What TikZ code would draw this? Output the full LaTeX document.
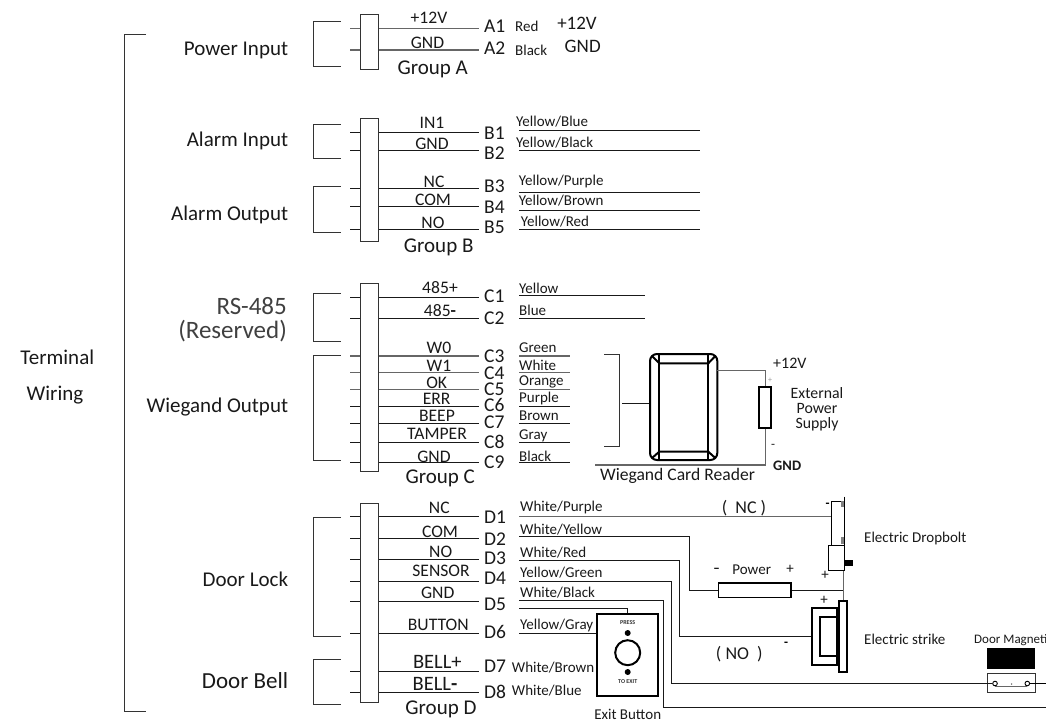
\documentclass[tikz,border=0pt]{standalone}
\usepackage{fontspec}
\setmainfont{Carlito}
\usetikzlibrary{positioning}
\tikzset{
  group/.style={font=\fontsize{21}{23}\selectfont,text=black!90,inner sep=0pt,anchor=east,yshift=-1.5pt},
  grouplabel/.style={font=\fontsize{21}{23}\selectfont,text=black!90,inner sep=0pt},
  pinlabel/.style={font=\fontsize{17.6}{19}\selectfont,text=black!90,inner sep=0pt},
  termlabel/.style={font=\fontsize{19.5}{21}\selectfont,text=black!90,inner ysep=0pt,inner xsep=5pt,anchor=west},
  colourlabel/.style={font=\fontsize{15}{17}\selectfont,text=black!90,inner sep=0pt,anchor=west},
  devlabel/.style={font=\fontsize{15}{17}\selectfont,text=black!90,inner sep=0pt},
  minuslabel/.style={font=\bfseries\fontsize{13}{15}\selectfont,text=black,inner sep=0pt,yshift=-1.5pt},
  wire/.style={draw=black!90,line width=1pt},
  greywire/.style={draw=black!60,line width=1.2pt},
  bracket/.style={draw=black!80,line width=1pt},
  block/.style={draw=black!80,fill=white,line width=1pt,inner sep=0pt,minimum width=17.7pt},
  part/.style={draw=black,fill=white,line width=2pt,inner sep=0pt},
  thinpart/.style={draw=black,line width=1pt,inner sep=0pt},
}
\begin{document}
\begin{tikzpicture}[x=1pt,y=-1pt]
\useasboundingbox (0,0) rectangle (1046,721);

\node[font=\fontsize{21}{23}\selectfont,text=black!90,inner sep=0pt] (terminal) at (57.3,357) {Terminal};
\node[font=\fontsize{21}{23}\selectfont,text=black!90,inner sep=0pt] (wiring) at (55,395) {Wiring};
\draw[bracket] (146,34) -| (124.3,711.7) -- (146,711.7);

\node[group] (power) at (288.3,49) {Power Input};
\node[group] (alarmin) at (288.3,139.3) {Alarm Input};
\node[group] (alarmout) at (288.3,213.3) {Alarm Output};
\node[group,font=\fontsize{25}{27}\selectfont,text=black!75] (rs) at (287,305) {RS-485};
\node[group,font=\fontsize{25}{27}\selectfont,text=black!75] (reserved) at (287,330) {(Reserved)};
\node[group] (wiegand) at (288.3,406) {Wiegand Output};
\node[group] (doorlock) at (288.3,578) {Door Lock};
\node[group,font=\fontsize{23}{25}\selectfont] (doorbell) at (288.3,679) {Door Bell};

\draw[bracket] (340.7,21.7) -| (313,66.7) -- (340.7,66.7);
\draw[bracket] (340.7,124) -| (313,158) -- (340.7,158);
\draw[bracket] (340.7,186.7) -| (313,232) -- (340.7,232);
\draw[bracket] (340.7,293.3) -| (313,341.3) -- (340.7,341.3);
\draw[bracket] (340.7,355.7) -| (313,460.3) -- (340.7,460.3);
\draw[bracket] (340.7,517) -| (313,636) -- (340.7,636);
\draw[bracket] (340.7,659) -| (313,704.3) -- (340.7,704.3);

\node[termlabel] (A1) at (479,26) {A1};
\node[termlabel] (A2) at (479,48) {A2};
\node[termlabel] (B1) at (479,133) {B1};
\node[termlabel] (B2) at (479,152.7) {B2};
\node[termlabel] (B3) at (479,186) {B3};
\node[termlabel] (B4) at (479,207) {B4};
\node[termlabel] (B5) at (479,227.7) {B5};
\node[termlabel] (C1) at (479,296) {C1};
\node[termlabel] (C2) at (479,318.3) {C2};
\node[termlabel] (C3) at (479,356) {C3};
\node[termlabel] (C4) at (479,373.3) {C4};
\node[termlabel] (C5) at (479,389.3) {C5};
\node[termlabel] (C6) at (479,405.3) {C6};
\node[termlabel] (C7) at (479,422.7) {C7};
\node[termlabel] (C8) at (479,441.7) {C8};
\node[termlabel] (C9) at (479,462.3) {C9};
\node[termlabel] (D1) at (479,517) {D1};
\node[termlabel] (D2) at (479,539) {D2};
\node[termlabel] (D3) at (479,558.3) {D3};
\node[termlabel] (D4) at (479,578.7) {D4};
\node[termlabel] (D5) at (479,604.3) {D5};
\node[termlabel] (D6) at (479,632.3) {D6};
\node[termlabel] (D7) at (479,666.7) {D7};
\node[termlabel] (D8) at (479,691.7) {D8};

\coordinate (a1) at (350,28.7); \draw[greywire] (a1) -- (a1 -| A1.west);
\coordinate (a2) at (350,50); \draw[greywire] (a2) -- (a2 -| A2.west);
\coordinate (b1) at (350,132.3); \draw[wire] (b1) -- (b1 -| B1.west);
\coordinate (b2) at (350,150.7); \draw[wire] (b2) -- (b2 -| B2.west);
\coordinate (b3) at (350,188); \draw[wire] (b3) -- (b3 -| B3.west);
\coordinate (b4) at (350,206.7); \draw[wire] (b4) -- (b4 -| B4.west);
\coordinate (b5) at (350,229.7); \draw[wire] (b5) -- (b5 -| B5.west);
\coordinate (c1) at (350,297.3); \draw[wire] (c1) -- (c1 -| C1.west);
\coordinate (c2) at (350,318); \draw[wire] (c2) -- (c2 -| C2.west);
\coordinate (c3) at (350,356); \draw[greywire] (c3) -- (c3 -| C3.west);
\coordinate (c4) at (350,372.7); \draw[greywire] (c4) -- (c4 -| C4.west);
\coordinate (c5) at (350,389.3); \draw[greywire] (c5) -- (c5 -| C5.west);
\coordinate (c6) at (350,406); \draw[wire] (c6) -- (c6 -| C6.west);
\coordinate (c7) at (350,423.3); \draw[wire] (c7) -- (c7 -| C7.west);
\coordinate (c8) at (350,442); \draw[wire] (c8) -- (c8 -| C8.west);
\coordinate (c9) at (350,462); \draw[wire] (c9) -- (c9 -| C9.west);
\coordinate (d1) at (350,516); \draw[wire] (d1) -- (d1 -| D1.west);
\coordinate (d2) at (350,538.3); \draw[wire] (d2) -- (d2 -| D2.west);
\coordinate (d3) at (350,559.7); \draw[wire] (d3) -- (d3 -| D3.west);
\coordinate (d4) at (350,581.3); \draw[wire] (d4) -- (d4 -| D4.west);
\coordinate (d5) at (350,601.7); \draw[wire] (d5) -- (d5 -| D5.west);
\coordinate (d6) at (350,633.3); \draw[wire] (d6) -- (d6 -| D6.west);
\coordinate (d7) at (350,671.7); \draw[wire] (d7) -- (d7 -| D7.west);
\coordinate (d8) at (350,692.7); \draw[wire] (d8) -- (d8 -| D8.west);

\node[block,minimum height=54.3pt] (blockA) at (369.8,41.85) {};
\node[block,minimum height=123.4pt] (blockB) at (369.8,180) {};
\node[block,minimum height=187.3pt] (blockC) at (369.8,377.35) {};
\node[block,minimum height=199.4pt] (blockD) at (369.8,603) {};

\node[pinlabel] (p12) at (429,18) {+12V};
\node[pinlabel] (pgnda) at (427.5,42.7) {GND};
\node[pinlabel] (pin1) at (432,123) {IN1};
\node[pinlabel] (pgndb) at (432,144) {GND};
\node[pinlabel] (pnc) at (434,181.7) {NC};
\node[pinlabel] (pcom) at (433,200) {COM};
\node[pinlabel] (pno) at (433,222.7) {NO};
\node[pinlabel] (p485a) at (440,287.7) {485+};
\node[pinlabel] (p485b) at (440,310.3) {485\textbf{-}};
\node[pinlabel] (pw0) at (439,348.3) {W0};
\node[pinlabel] (pw1) at (439,366) {W1};
\node[pinlabel] (pok) at (436.7,382.7) {OK};
\node[pinlabel] (perr) at (436.7,399) {ERR};
\node[pinlabel] (pbeep) at (437,415.7) {BEEP};
\node[pinlabel] (ptamper) at (437,434.3) {TAMPER};
\node[pinlabel] (pgndc) at (434,456.7) {GND};
\node[pinlabel] (pncd) at (439.3,508.3) {NC};
\node[pinlabel] (pcomd) at (440,531.7) {COM};
\node[pinlabel] (pnod) at (440.7,551.7) {NO};
\node[pinlabel] (psensor) at (441,571) {SENSOR};
\node[pinlabel] (pgndd) at (437.7,592.7) {GND};
\node[pinlabel] (pbutton) at (438.3,625) {BUTTON};
\node[pinlabel,font=\fontsize{20.5}{22}\selectfont] (pbella) at (437.3,661.7) {BELL+};
\node[pinlabel,font=\fontsize{20.5}{22}\selectfont] (pbellb) at (435,684) {BELL\textbf{-}};

\node[grouplabel] (groupA) at (432.7,69) {Group A};
\node[grouplabel] (groupB) at (438.7,247.7) {Group B};
\node[grouplabel] (groupC) at (440.3,478.3) {Group C};
\node[grouplabel] (groupD) at (441,709) {Group D};

\node[colourlabel] (red) at (515,26.7) {Red};
\node[colourlabel] (black) at (515,50) {Black};
\node[font=\fontsize{19}{21}\selectfont,text=black!90,inner sep=0pt] (v12) at (577,23) {+12V};
\node[font=\fontsize{19}{21}\selectfont,text=black!90,inner sep=0pt] (vgnd) at (582.7,46) {GND};

\node[colourlabel] (yblue) at (516,121.7) {Yellow/Blue};
\coordinate (yb) at (519,130.7); \draw[wire] (yb) -- ++(181,0);
\node[colourlabel] (yblack) at (516,142.7) {Yellow/Black};
\coordinate (yk) at (519,150.7); \draw[wire] (yk) -- ++(181,0);
\node[colourlabel] (ypurple) at (518.7,181.7) {Yellow/Purple};
\coordinate (yp) at (519,192.3); \draw[wire] (yp) -- ++(181,0);
\node[colourlabel] (ybrown) at (518.7,201) {Yellow/Brown};
\coordinate (yn) at (519,210.7); \draw[wire] (yn) -- ++(181,0);
\node[colourlabel] (yred) at (520.7,221.7) {Yellow/Red};
\coordinate (yr) at (519,229.7); \draw[wire] (yr) -- ++(181,0);

\node[colourlabel] (yellow) at (519,288.3) {Yellow};
\coordinate (cy) at (519,295.7); \draw[wire] (cy) -- ++(126,0);
\node[colourlabel] (blue) at (519,310.7) {Blue};
\coordinate (cb) at (519,318); \draw[wire] (cb) -- ++(126,0);
\node[colourlabel] (green) at (519,347.7) {Green};
\coordinate (cg) at (519,356); \draw[greywire] (cg) -- ++(51,0);
\node[colourlabel] (white) at (519,365.7) {White};
\coordinate (cw) at (519,372.7); \draw[greywire] (cw) -- ++(51,0);
\node[colourlabel] (orange) at (519,382) {Orange};
\coordinate (co) at (519,389.7); \draw[greywire] (co) -- ++(51,0);
\node[colourlabel] (purple) at (519,398) {Purple};
\coordinate (cp) at (519,406); \draw[wire] (cp) -- ++(51,0);
\node[colourlabel] (brown) at (519,415.7) {Brown};
\coordinate (cn) at (519,423.3); \draw[wire] (cn) -- ++(51,0);
\node[colourlabel] (gray) at (519,436) {Gray};
\coordinate (ca) at (519,442.3); \draw[wire] (ca) -- ++(51,0);
\node[colourlabel] (cblack) at (519,456.7) {Black};
\coordinate (ck) at (519,462.7); \draw[wire] (ck) -- ++(51,0);

\draw[bracket] (604,354.7) -| (619.3,446) -- (604,446);
\node[part,rounded corners=7pt,minimum width=67.3pt,minimum height=106pt] (reader) at (683.65,407) {};
\coordinate (readerin) at (622,403.3); \draw[wire] (readerin) -- (readerin -| reader.west);
\draw[black,line width=2pt] (659.3,355) -- (659.3,459);
\draw[black,line width=2pt] (708.3,355) -- (708.3,459);
\draw[black,line width=2pt] (652,356) -- (659.3,363.3) -- (708.3,363.3) -- (715.3,356);
\draw[black,line width=2pt] (652,458) -- (659.3,451.7) -- (708.3,451.7) -- (715.3,458);
\node[part,minimum width=12.3pt,minimum height=41pt] (psu) at (765.15,407.2) {};
\coordinate (readerout) at (717.3,370.7);
\coordinate (readergnd) at (595,465);
\draw[greywire] (readerout) -| (psu.north);
\draw[greywire] (psu.south) |- (readergnd);
\node[font=\fontsize{8}{9}\selectfont,text=black!40,inner sep=0pt] (psuplus) at (770,380) {+};
\node[font=\fontsize{13}{15}\selectfont,text=black!90,inner sep=0pt] (psuminus) at (773,446) {-};
\node[devlabel,anchor=west,font=\fontsize{16}{18}\selectfont] (supply12) at (773,363.3) {+12V};
\node[devlabel,anchor=west,font=\bfseries\fontsize{14.5}{16}\selectfont] (supplygnd) at (773,465.7) {GND};
\node[devlabel,align=center,font=\fontsize{15.8}{15}\selectfont] (supply) at (817,409) {External\\Power\\Supply};
\node[font=\fontsize{17.6}{19}\selectfont,text=black!90,inner sep=0pt] (cardreader) at (677.5,475.7) {Wiegand Card Reader};

\node[colourlabel] (wpurple) at (520,507.3) {White/Purple};
\node[colourlabel] (wyellow) at (520,529.3) {White/Yellow};
\node[colourlabel] (wred) at (520,552.3) {White/Red};
\node[colourlabel] (ygreen) at (520,572.3) {Yellow/Green};
\node[colourlabel] (wblack) at (520,592.7) {White/Black};
\node[colourlabel] (ygray) at (520,625.3) {Yellow/Gray};
\node[colourlabel] (wbrown) at (511.7,667.7) {White/Brown};
\node[colourlabel] (wblue) at (511.7,691) {White/Blue};

\draw[black,line width=1.5pt] (844.3,496.7) -- (844.3,570);
\node[thinpart,minimum width=12.6pt,minimum height=43.3pt] (bolt) at (838,523.35) {};
\node[thinpart,minimum width=16pt,minimum height=24.3pt] (boltlow) at (836.3,557.85) {};
\node[fill=black,inner sep=0pt,minimum width=8pt,minimum height=6pt] (boltknob) at (848.5,563) {};
\node[fill=black!50,inner sep=0pt,minimum width=3pt,minimum height=6pt] (bolttaba) at (842,504) {};
\node[fill=black!50,inner sep=0pt,minimum width=3pt,minimum height=7pt] (bolttabb) at (842,540) {};

\node[part,minimum width=8.3pt,minimum height=71.6pt] (plate) at (843.15,636.5) {};
\node[part,minimum width=24.7pt,minimum height=56.7pt,anchor=east] (strike) at (plate.west) {};
\node[part,minimum width=16.7pt,minimum height=38.3pt,anchor=east] (strikein) at (plate.west) {};
\node[part,line width=1.6pt,minimum width=72.4pt,minimum height=14.6pt] (resistor) at (754.5,590) {};

\coordinate (wp) at (519,516.3); \draw[greywire] (wp) -- (wp -| bolt.west);
\coordinate (wy) at (519,536); \draw[wire] (wy) -| (689.3,590) -- (resistor.west);
\draw[wire] (resistor.east) -- (resistor.east -| plate.north);
\draw[greywire] (plate.north |- boltlow.south) -- (plate.north);
\coordinate (wr) at (519,560.7); \draw[wire] (wr) -| (679,636.5) -- (strike.west);
\node[thinpart,draw=black!80,minimum width=48.7pt,minimum height=19.7pt] (magbox) at (1011.35,682.85) {};
\node[fill=black,inner sep=0pt,minimum width=47.7pt,minimum height=20.7pt] (magtop) at (1011.15,658.65) {};
\node[circle,draw=black,line width=0.9pt,inner sep=0pt,minimum size=4.6pt] (magl) at (995,683.5) {};
\node[circle,draw=black,line width=0.9pt,inner sep=0pt,minimum size=4.6pt] (magr) at (1027.3,683.5) {};
\coordinate (yg) at (519,581); \draw[wire] (yg) -| (671,683.5) -- (magl.west);
\draw[greywire,line width=0.7pt] (magl.south) -- (magr.south);
\node[circle,fill=black!70,inner sep=0pt,minimum size=1.5pt] (magdot) at (1011.5,684) {};
\coordinate (magend) at (1046,683.5); \draw[black,line width=1.5pt] (magr.east) -- (magend);
\coordinate (wkend) at (1046,707.7); \draw[black!40,line width=0.8pt] (magend) -- (wkend);
\coordinate (wk) at (519,600.3); \draw[wire] (wk) -| (663.3,707.7) -- (wkend);

\node[part,minimum width=61pt,minimum height=82pt] (button) at (627.2,655) {};
\coordinate (wkb) at (519,608.3); \draw[wire] (wkb) -| (button.north);
\coordinate (yy) at (519,633.7); \draw[wire] (yy) -- (yy -| button.west);
\node[font=\bfseries\fontsize{6}{7}\selectfont,text=black!80,inner sep=0pt] (press) at (627.7,623) {PRESS};
\node[circle,fill=black,inner sep=0pt,minimum size=6pt] (pressdot) at (627.7,633) {};
\node[circle,draw=black,line width=2pt,inner sep=0pt,minimum size=25pt] (pushbtn) at (627.7,652.7) {};
\node[circle,fill=black,inner sep=0pt,minimum size=6pt] (exitdot) at (627.7,672) {};
\node[font=\bfseries\fontsize{6}{7}\selectfont,text=black!80,inner sep=0pt] (toexit) at (627.7,681.7) {TO EXIT};
\node[devlabel] (exitbutton) at (627.7,714) {Exit Button};

\node[font=\fontsize{18}{20}\selectfont,text=black!90,inner sep=0pt] (ncmark) at (744,508) {(\ \ NC\ )};
\node[font=\fontsize{18}{20}\selectfont,text=black!90,inner sep=0pt] (nomark) at (739.3,654) {(\ NO\ \ )};
\node[devlabel] (powerlabel) at (751.7,569.3) {Power};
\node[minuslabel] (resminus) at (716.7,569.3) {--};
\node[devlabel] (resplus) at (790,569) {+};
\node[minuslabel] (boltminus) at (827.7,503.7) {-};
\node[devlabel] (boltplus) at (825,575.3) {+};
\node[devlabel] (strikeplus) at (824,600.7) {+};
\node[minuslabel] (strikeminus) at (786,642.7) {-};
\node[devlabel,anchor=west] (dropbolt) at (864,538.3) {Electric Dropbolt};
\node[devlabel,anchor=west] (strikelabel) at (864,639) {Electric strike};
\node[devlabel,anchor=west,font=\fontsize{13}{15}\selectfont] (magnetic) at (974,640) {Door Magnetic};

\end{tikzpicture}
\end{document}
